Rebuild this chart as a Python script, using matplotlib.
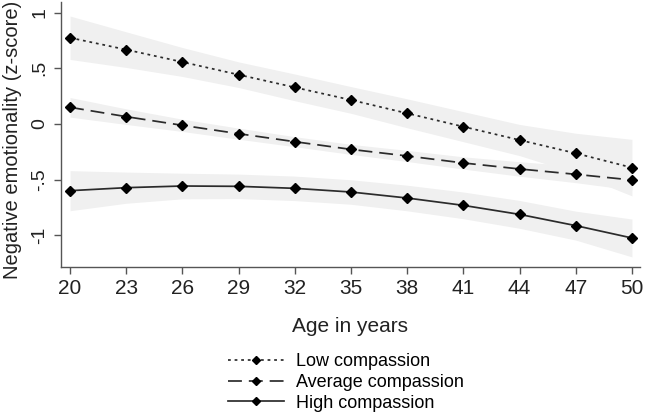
import matplotlib
matplotlib.use("Agg")
import matplotlib.pyplot as plt
import numpy as np

plt.rcParams['font.family'] = ['Liberation Sans', 'DejaVu Sans']

ages = [20, 23, 26, 29, 32, 35, 38, 41, 44, 47, 50]
low = [0.775, 0.668, 0.557, 0.443, 0.329, 0.216, 0.096, -0.024, -0.144, -0.263, -0.392]
low_ci = [0.195, 0.16, 0.13, 0.115, 0.12, 0.12, 0.13, 0.135, 0.14, 0.18, 0.254]
avg = [0.150, 0.066, -0.012, -0.087, -0.159, -0.228, -0.287, -0.350, -0.404, -0.452, -0.503]
avg_ci = [0.088, 0.07, 0.055, 0.05, 0.045, 0.045, 0.05, 0.055, 0.065, 0.075, 0.09]
high = [-0.599, -0.572, -0.557, -0.560, -0.578, -0.611, -0.665, -0.731, -0.812, -0.913, -1.024]
high_ci = [0.18, 0.14, 0.115, 0.11, 0.11, 0.11, 0.115, 0.12, 0.125, 0.13, 0.17]

labels = ['Low compassion', 'Average compassion', 'High compassion']
ytick_vals = [1, 0.5, 0, -0.5, -1]
ytick_labels = ['1', '.5', '0', '-.5', '-1']

fig = plt.figure(figsize=(6.45, 4.2), dpi=100)
ax = fig.add_axes([60.5/645, 0.365, (640-60.5)/645, 0.9952-0.365])

band_color = '#f0f0f0'
x = np.array(ages)
for vals, ci in [(low, low_ci), (avg, avg_ci), (high, high_ci)]:
    v = np.array(vals); c = np.array(ci)
    ax.fill_between(x, v - c, v + c, color=band_color, lw=0, zorder=1)

line_color = '#2b2b2b'
styles = [(0, (1.6, 2.2)), (0, (8, 4)), '-']
handles = []
for vals, ls, lab in zip([low, avg, high], styles, labels):
    h, = ax.plot(ages, vals, linestyle=ls, color=line_color, lw=1.25,
                 marker='D', ms=5.2, mfc='black', mec='black', zorder=3, label=lab)
    handles.append(h)

ax.set_xlim(19.49, 50.43)
ax.set_ylim(-1.282, 1.096)
ax.set_xticks(ages)
ax.set_xticklabels([str(a) for a in ages], fontsize=15)
ax.set_yticks(ytick_vals)
ax.set_yticklabels(ytick_labels, fontsize=14, rotation=90, va='center')

for s in ['top', 'right']:
    ax.spines[s].set_visible(False)
for s in ['left', 'bottom']:
    ax.spines[s].set_color('#555555')
    ax.spines[s].set_linewidth(1.0)
ax.tick_params(axis='both', color='#555555', length=5, width=1.0, labelcolor='#222222')
ax.tick_params(axis='x', pad=4)
ax.tick_params(axis='y', pad=4)

ax.set_xlabel('Age in years', fontsize=15, color='#222222')
ax.xaxis.set_label_coords(0.5, -0.2275)
ax.xaxis.label.set_verticalalignment('center')
ax.set_ylabel('Negative emotionality (z-score)', fontsize=14.5, color='#222222')
ax.yaxis.set_label_coords(-0.083, 0.48)
ax.yaxis.label.set_verticalalignment('center')

fig.legend(handles=handles, labels=labels, loc='center',
           bbox_to_anchor=(346/645, 1 - 382.5/420), frameon=False,
           fontsize=13, handlelength=3.1, handletextpad=0.66,
           labelspacing=0.2, numpoints=1, markerscale=0.85, borderpad=0)

fig.savefig('out.png', dpi=100)
